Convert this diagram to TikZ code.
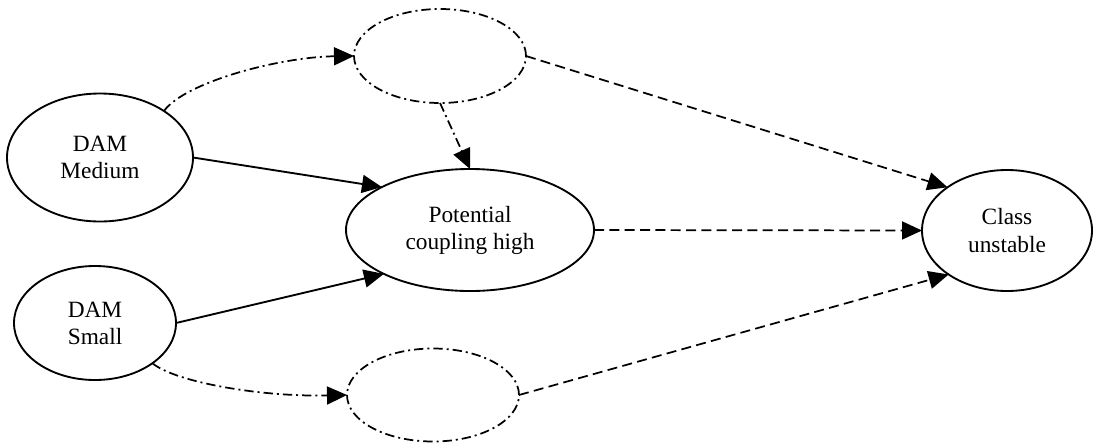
\documentclass[tikz,border=0pt]{standalone}
\usepackage{fontspec}
\setmainfont{Liberation Serif}
\usetikzlibrary{shapes.geometric,arrows.meta}

\begin{document}
\begin{tikzpicture}[x=0.75pt,y=-0.75pt,
     state/.style={ellipse,draw,line width=1.4pt,inner sep=0pt,outer sep=0pt,
        align=center,font=\fontsize{17.5}{20.3}\selectfont},
     hidden/.style={ellipse,draw,line width=1.3pt,inner sep=0pt,outer sep=0pt,
        dash pattern=on 7pt off 3pt on 1.5pt off 3pt},
     arrowtip/.style={-{Triangle[length=15pt,width=13.5pt]}},
     dotdashline/.style={arrowtip,line width=1.3pt,dash pattern=on 7pt off 3pt on 1.5pt off 3pt},
     dashline/.style={arrowtip,line width=1.3pt,dash pattern=on 7.5pt off 4pt}]
     \useasboundingbox (0,0) rectangle (1098,443);
     \node[state,minimum width=139.5pt,minimum height=96pt](med) at (100,157.5) {DAM\\Medium};
     \node[state,minimum width=121.5pt,minimum height=85.5pt](small) at (95,323) {DAM\\Small};
     \node[hidden,minimum width=129pt,minimum height=70.5pt](up) at (440,56) {};
     \node[state,minimum width=186pt,minimum height=91.5pt](pot) at (470,230) {Potential\\coupling high};
     \node[hidden,minimum width=129pt,minimum height=69.75pt](down) at (433,395) {};
     \node[state,minimum width=127.5pt,minimum height=90.75pt](cls) at (1007,230.5) {Class\\unstable};
     \draw[arrowtip,line width=1.4pt] (med.east) -- (pot.154);
     \draw[arrowtip,line width=1.4pt] (small.east) -- (pot.207);
     \draw[dotdashline]
        (med.36) .. controls (185,82) and (280,57) .. (up.west);
     \draw[dotdashline] (up.south) -- (pot.north);
     \draw[dotdashline]
        (small.325) .. controls (175,382) and (260,397) .. (down.west);
     \draw[dashline] (up.east) -- (cls.144);
     \draw[dashline] (pot.east) -- (cls.west);
     \draw[dashline] (down.east) -- (cls.217);
\end{tikzpicture}
\end{document}
